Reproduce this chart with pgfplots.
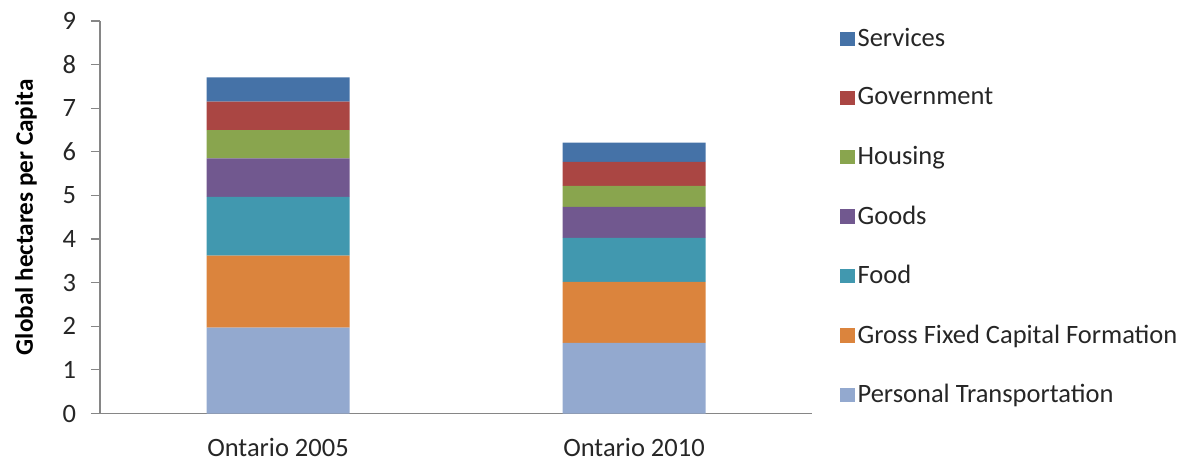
\documentclass[border=0pt]{standalone}
\usepackage{pgfplots}
\pgfplotsset{compat=1.18}
\usepackage{fontspec}
\setmainfont{Carlito}
\definecolor{cServ}{HTML}{4572A7}
\definecolor{cGov}{HTML}{AA4643}
\definecolor{cHous}{HTML}{89A54E}
\definecolor{cGoods}{HTML}{71588F}
\definecolor{cFood}{HTML}{4198AF}
\definecolor{cGFCF}{HTML}{DB843D}
\definecolor{cPT}{HTML}{93A9CF}
\definecolor{axgray}{HTML}{868686}
\begin{document}
\begin{tikzpicture}
\path[use as bounding box] (-50pt,-24.25pt) rectangle (544pt,206.75pt);
\begin{axis}[
  scale only axis,
  width=356pt, height=196.25pt,
  xmin=-0.5, xmax=1.5,
  ymin=0, ymax=9,
  ytick={0,1,...,9},
  xtick={0,1},
  xticklabels={Ontario 2005, Ontario 2010},
  x tick style={draw=none},
  y tick style={axgray, line width=0.6pt},
  tick align=outside,
  major tick length=4.5pt,
  axis x line*=bottom,
  axis y line*=left,
  axis line style={axgray, line width=0.6pt, -},
  ybar stacked,
  bar width=71.5pt,
  tick label style={font=\fontsize{13.25}{15}\selectfont, text=black!85},
  /pgf/number format/assume math mode=true,
  yticklabel style={xshift=-4pt},
  xticklabel style={yshift=-4.5pt},
  ylabel={\textbf{Global hectares per Capita}},
  ylabel style={font=\fontsize{12.6}{15}\selectfont, yshift=6pt},
  reverse legend,
  legend cell align=left,
  legend style={draw=none, fill=none, at={(1.0385,0.99)}, anchor=north west,
    font=\fontsize{13.25}{15}\selectfont, row sep=16.1pt, inner sep=0pt,
    nodes={inner sep=1.5pt, text=black!85}},
  legend image code/.code={\fill[#1] (0pt,-3.6pt) rectangle (7.4pt,3.6pt);},
  every axis plot/.append style={draw=none},
]
\addplot[fill=cPT] coordinates {(0,1.97) (1,1.62)};
\addplot[fill=cGFCF] coordinates {(0,1.65) (1,1.40)};
\addplot[fill=cFood] coordinates {(0,1.35) (1,1.01)};
\addplot[fill=cGoods] coordinates {(0,0.88) (1,0.71)};
\addplot[fill=cHous] coordinates {(0,0.65) (1,0.48)};
\addplot[fill=cGov] coordinates {(0,0.65) (1,0.55)};
\addplot[fill=cServ] coordinates {(0,0.56) (1,0.44)};
\legend{Personal Transportation, Gross Fixed Capital Formation, Food, Goods, Housing, Government, Services}
\end{axis}
\end{tikzpicture}
\end{document}
